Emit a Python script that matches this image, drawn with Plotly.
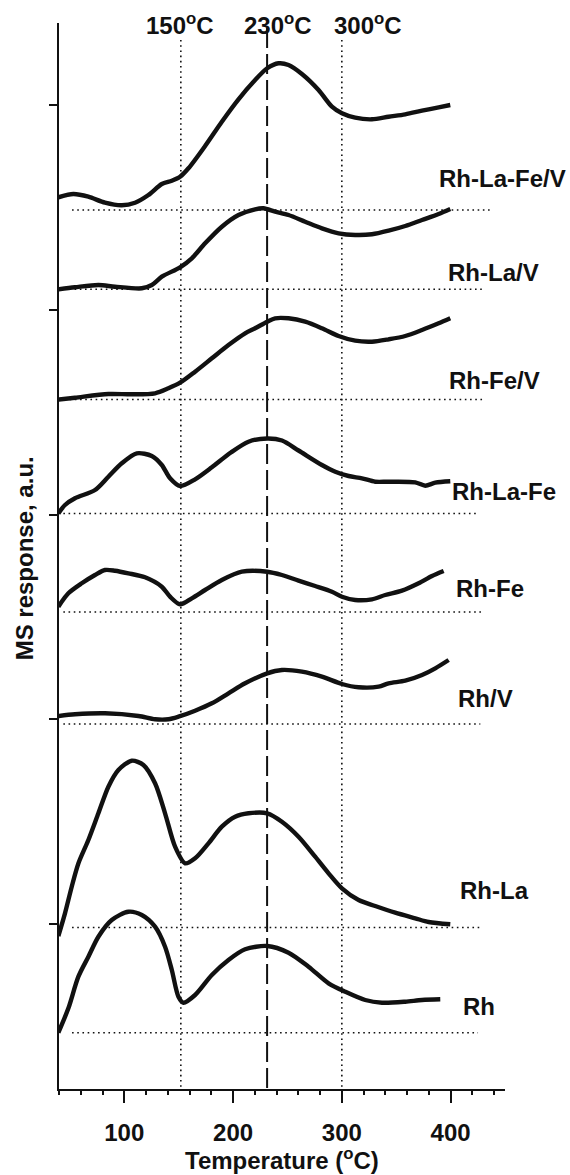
import plotly.graph_objects as go

# ---- data (temperature in deg C, MS signal in a.u. above each curve's baseline) ----
names = ["Rh", "Rh-La", "Rh/V", "Rh-Fe", "Rh-La-Fe", "Rh-Fe/V", "Rh-La/V", "Rh-La-Fe/V"]

T_RH = [39.4, 48.6, 57.8, 67, 76.2, 88.5, 103.8, 116.1, 128.3, 137.5, 143.7, 149.8, 154.4, 165.1,
        180.5, 195.8, 211.1, 231.4, 251, 269.4, 287.8, 303.1, 321.5, 336.9, 358.3, 373.7, 390.5]
S_RH = [0, 24.4, 56, 76, 96, 112.7, 121, 117.7, 106, 86, 62.7, 36, 30, 37.7,
        57.7, 72.7, 83.4, 86.7, 80, 66, 49.4, 41, 32.7, 30, 31, 32.7, 33.4]

T_RHLA = [39.4, 45.5, 51.7, 57.8, 67, 76.2, 85.4, 94.6, 106.9, 117.6, 128.3, 137.5, 146.7, 155.9, 165.1,
          177.4, 189.7, 201.9, 214.2, 231.4, 244.9, 260.2, 275.5, 287.8, 300.1, 315.4, 330.7, 349.1,
          367.5, 379.8, 399.7]
S_RHLA = [-8.5, 14.2, 40.8, 64, 87.5, 114.2, 140.8, 157.5, 166.8, 162.5, 144.2, 114.2, 80.8, 64.2, 69.2,
          84.2, 100.8, 110.8, 114.2, 114.2, 105.8, 90.8, 70.8, 54.2, 39.2, 27.5, 21.5, 14.8,
          9.2, 5.5, 3.2]

T_RHV = [39.4, 54.7, 82.3, 113, 128.3, 140.6, 149.8, 165.1, 180.5, 195.8, 211.1, 231.4, 244.9, 263.3,
         281.7, 300.1, 315.4, 333.8, 343, 358.3, 373.7, 385.9, 398.2]
S_RHV = [8, 9.7, 10.7, 8, 4.7, 4.7, 7.3, 13.3, 20.7, 30.7, 40.7, 50.7, 54, 52.3,
         47.3, 40, 36.7, 37.3, 40.7, 43.3, 49, 55.7, 64]

T_RHFE = [39.4, 48.6, 60.9, 73.1, 82.3, 91.5, 103.8, 119.1, 134.5, 142.1, 151.3, 162.1, 174.3, 189.7,
          208.1, 231.4, 244.9, 260.2, 275.5, 290.9, 300.1, 312.3, 327.7, 339.9, 355.3, 370.6, 382.9, 393.6]
S_RHFE = [5.3, 18.7, 28.7, 37, 42, 41.3, 38.7, 34.7, 25.3, 15.3, 7.7, 13.7, 22, 32,
          40.3, 40.3, 37, 31.3, 26, 20.3, 15.3, 12, 12.7, 17, 21.3, 28.7, 36, 41]

T_RHLAFE = [39.4, 45.5, 54.7, 73.1, 85.4, 97.7, 111.5, 125.3, 134.5, 142.1, 151.3, 165.1, 180.5, 198,
            214.2, 231.4, 245, 260.2, 281.7, 294, 306.2, 318.5, 330.7, 343, 367.5, 376.7, 385.9, 399.7]
S_RHLAFE = [0, 8.5, 15.2, 23.5, 36.8, 50.2, 60.2, 57.5, 48.5, 35.2, 27.5, 34.2, 46.2, 61,
            71.8, 75, 73, 63, 48.5, 41.8, 37.5, 35.2, 31.8, 31.8, 31.2, 27.8, 30.8, 32.2]

T_RHFEV = [39.4, 54.7, 85.4, 106.9, 128.3, 140.6, 151.3, 165.1, 180.5, 195.8, 211.1, 220.3, 231.4,
           238.7, 251, 266.3, 281.7, 297, 312.3, 327.7, 343, 358.3, 373.7, 389, 399.7]
S_RHFEV = [0, 1.8, 5.5, 5.2, 6.2, 11.2, 16.8, 27.8, 41.2, 54.5, 66.2, 71.2, 77.8,
           81.2, 81.2, 77.8, 71.2, 63.5, 58.8, 57.8, 60.2, 63.5, 69.5, 76.2, 81.2]

T_RHLAV = [39.4, 54.7, 76.2, 91.5, 116.1, 125.3, 134.5, 151.3, 162.1, 174.3, 189.7, 205, 220.3, 228,
           238.7, 251, 266.3, 281.7, 297, 312.3, 327.7, 343, 358.3, 373.7, 389, 399.7]
S_RHLAV = [0, 2, 4.3, 2.6, 1, 4.3, 12.6, 22, 31, 46, 62.6, 74.3, 80, 81,
           77.6, 74.3, 67.6, 61, 56, 54.3, 55, 58.6, 63.3, 69.3, 75.3, 80.3]

T_RHLAFEV = [39.4, 53.2, 67, 82.3, 97.7, 109.9, 122.2, 134.5, 143.7, 151.3, 159, 174.3, 189.7, 205,
             220.3, 231.4, 241.8, 251, 263.3, 278.6, 290.9, 300.1, 312.3, 327.7, 343, 358.3, 373.7, 389, 399.7]
S_RHLAFEV = [12.7, 16, 13.3, 7.3, 4.7, 7.3, 15, 26, 29.3, 33.3, 41.7, 64, 88.3, 110.7,
             130, 141.7, 146.7, 145, 136, 120, 103.3, 96.7, 92.3, 90.7, 93.3, 95.7, 99.3, 102.7, 105]

temps = [T_RH, T_RHLA, T_RHV, T_RHFE, T_RHLAFE, T_RHFEV, T_RHLAV, T_RHLAFEV]
signals = [S_RH, S_RHLA, S_RHV, S_RHFE, S_RHLAFE, S_RHFEV, S_RHLAV, S_RHLAFEV]

# vertical stacking offsets (baseline of each curve, a.u.)
offsets = [56.3, 161.5, 365, 477, 575.5, 689.5, 799.7, 879]
base_start = [52, 52, 44, 44, 44, 45, 40, 52]
base_end = [425.2, 428.9, 427.3, 428.9, 424.3, 432, 428.9, 438]

# label anchor (left x in deg C, y centre in a.u.)
label_x = [409.9, 406.9, 405.3, 403.5, 399.8, 397.0, 396.1, 387.8]
label_y = [82.3, 199, 391, 501, 597.3, 709, 816.3, 911]

# reference temperatures
ref_temps = [152, 231.3, 300]
ref_text = ["150<sup>o</sup>C", "230<sup>o</sup>C", "300<sup>o</sup>C"]
ref_text_x = [151.3, 241.0, 323.8]

x_major = [100, 200, 300, 400]
y_ticks = [165, 370, 574, 779, 984]

FONT = "Liberation Sans, Arial, Helvetica, sans-serif"
INK = "#111111"

fig = go.Figure()

# reference vertical lines
for t in ref_temps:
    dashed = abs(t - 231.3) < 1
    fig.add_trace(go.Scatter(
        x=[t, t], y=[1061 if dashed else 1049, 0], mode="lines",
        line=dict(color=INK, width=2 if dashed else 1.6,
                  dash="20px,6px" if dashed else "1.6px,3.6px"),
        showlegend=False, hoverinfo="skip"))

# dotted baselines
for off, xs, xe in zip(offsets, base_start, base_end):
    fig.add_trace(go.Scatter(
        x=[xs, xe], y=[off, off], mode="lines",
        line=dict(color=INK, width=1.6, dash="1.6px,3.6px"),
        showlegend=False, hoverinfo="skip"))

# curves
for name, t, s, off in zip(names, temps, signals, offsets):
    fig.add_trace(go.Scatter(
        x=t, y=[off + v for v in s], mode="lines", name=name,
        line=dict(color=INK, width=4.4, shape="spline", smoothing=0.8),
        showlegend=False))

annotations = []
for name, lx, ly in zip(names, label_x, label_y):
    annotations.append(dict(x=lx, y=ly, xref="x", yref="y", text=name, showarrow=False,
                            xanchor="left", yanchor="middle",
                            font=dict(family=FONT, size=24, color=INK, weight="bold")))
for tx, tt in zip(ref_text_x, ref_text):
    annotations.append(dict(x=tx, y=1065, xref="x", yref="y", text=tt, showarrow=False,
                            xanchor="center", yanchor="middle",
                            font=dict(family=FONT, size=24, color=INK, weight="bold")))
annotations.append(dict(x=-0.078, y=0.498, xref="paper", yref="paper", text="MS response, a.u.",
                        textangle=-90, showarrow=False, xanchor="center", yanchor="middle",
                        font=dict(family=FONT, size=24, color=INK, weight="bold")))
annotations.append(dict(x=0.5, y=-0.066, xref="paper", yref="paper", text="Temperature (<sup>o</sup>C)",
                        showarrow=False, xanchor="center", yanchor="middle",
                        font=dict(family=FONT, size=24, color=INK, weight="bold")))

fig.update_layout(
    width=570, height=1175,
    margin=dict(l=59, r=65, t=23, b=86),
    plot_bgcolor="white", paper_bgcolor="white",
    showlegend=False,
    annotations=annotations,
    xaxis=dict(range=[40, 450], tickvals=x_major, ticks="outside", ticklen=12, tickwidth=2,
               tickcolor=INK, showline=True, linecolor=INK, linewidth=2, showgrid=False,
               zeroline=False, ticklabelstandoff=9,
               tickfont=dict(family=FONT, size=24, color=INK, weight="bold"),
               minor=dict(dtick=20, tick0=0, ticks="outside", ticklen=4, tickwidth=1.5,
                          tickcolor=INK, showgrid=False)),
    yaxis=dict(range=[0, 1066], tickvals=y_ticks, ticks="outside", ticklen=8, tickwidth=2,
               tickcolor=INK, showline=True, linecolor=INK, linewidth=2, showgrid=False,
               zeroline=False, showticklabels=False),
)

fig.write_html("out.html", config={"displayModeBar": False},
               post_script="document.body.style.margin='0';")
